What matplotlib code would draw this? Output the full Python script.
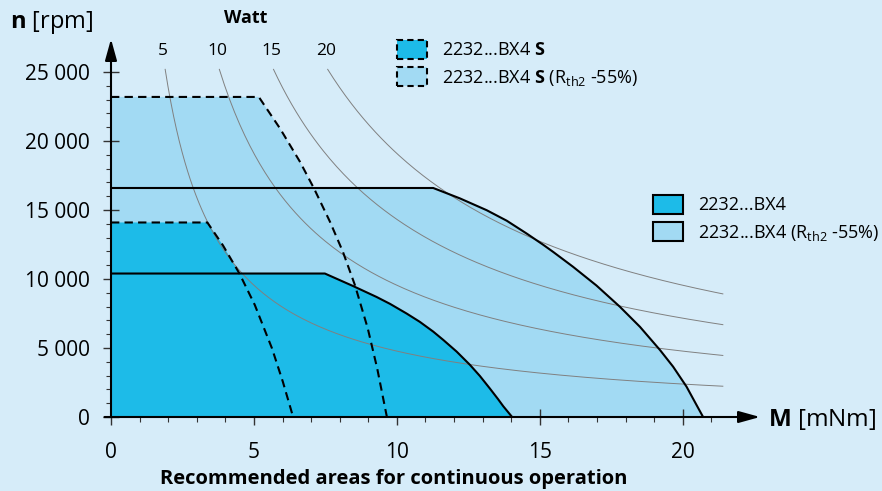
import numpy as np
import matplotlib
matplotlib.use("Agg")
import matplotlib.pyplot as plt
import matplotlib.ticker as mticker
from matplotlib.patches import Patch

# motor 2232...BX4 operating areas, torque M [mNm] vs speed n [rpm]
torque_bx4 = [0, 7.48, 8.47, 9.29, 9.76, 10.34, 10.80, 11.27, 11.62, 12.09, 12.55, 12.90, 13.25, 13.54, 13.72, 14.03]
speed_bx4 = [10400, 10400, 9490, 8700, 8200, 7500, 6900, 6190, 5590, 4740, 3790, 2980, 2070, 1290, 780, 0]

torque_bx4_rth = [0, 11.27, 12.20, 13.14, 13.84, 14.53, 15.12, 15.47, 16.16, 16.98, 17.80, 18.50, 19.20, 19.66, 20.13, 20.48, 20.71]
speed_bx4_rth = [16600, 16600, 15850, 14990, 14230, 13310, 12480, 11960, 10890, 9530, 7990, 6540, 4860, 3650, 2200, 870, 0]

torque_s = [0, 3.37, 3.91, 4.49, 5.03, 5.63, 6.01, 6.37]
speed_s = [14100, 14100, 12460, 10410, 8120, 4980, 2560, 0]

torque_s_rth = [0, 5.17, 5.91, 6.61, 7.10, 7.66, 8.11, 8.53, 8.98, 9.31, 9.65]
speed_s_rth = [23200, 23200, 20920, 18500, 16570, 14150, 11980, 9570, 6430, 3530, 0]

# iso-power lines
watt_levels = [5, 10, 15, 20]
watt_n_top = 25200
watt_m_end = 21.4

x_ticks = [0, 5, 10, 15, 20]
y_ticks = [0, 5000, 10000, 15000, 20000, 25000]

labels_top = [r"2232...BX4 $\mathbf{S}$", r"2232...BX4 $\mathbf{S}$ (R$_{\mathrm{th2}}$ -55%)"]
labels_right = ["2232...BX4", r"2232...BX4 (R$_{\mathrm{th2}}$ -55%)"]

bg = "#D6ECF9"
dark = "#1DBBE8"
light = "#A2DAF3"

plt.rcParams["font.family"] = ["Open Sans", "DejaVu Sans"]
plt.rcParams["mathtext.fontset"] = "custom"
plt.rcParams["mathtext.rm"] = "Open Sans"
plt.rcParams["mathtext.bf"] = "Open Sans:bold"
plt.rcParams["mathtext.it"] = "Open Sans:italic"

fig = plt.figure(figsize=(8.82, 4.91), dpi=100)
fig.patch.set_facecolor(bg)
ax = fig.add_axes([111/882, 74/491, 649/882, 378/491])
ax.set_facecolor(bg)
ax.set_xlim(0, 22.7)
ax.set_ylim(0, 27400)

# fills: light first, dark on top
ax.fill([0] + torque_s_rth, [0] + speed_s_rth, color=light, lw=0, zorder=1)
ax.fill([0] + torque_bx4_rth, [0] + speed_bx4_rth, color=light, lw=0, zorder=1)
ax.fill([0] + torque_bx4, [0] + speed_bx4, color=dark, lw=0, zorder=2)
ax.fill([0] + torque_s, [0] + speed_s, color=dark, lw=0, zorder=2)

# watt curves
k = 30000 / np.pi
for p in watt_levels:
    m = np.linspace(p * k / watt_n_top, watt_m_end, 200)
    ax.plot(m, p * k / m, color="#808080", lw=0.7, zorder=3)
    ax.text(p * k / watt_n_top - 0.07, 26500, str(p), ha="center", va="center",
            fontsize=12.5, zorder=5)
ax.text(4.72, 28900, "Watt", ha="center", va="center", fontsize=13,
        fontweight="bold", clip_on=False)

# outlines
ax.plot(torque_bx4, speed_bx4, color="k", lw=1.5, zorder=4)
ax.plot(torque_bx4_rth, speed_bx4_rth, color="k", lw=1.5, zorder=4)
ax.plot(torque_s, speed_s, color="k", lw=1.5, ls=(0, (4, 2.5)), zorder=4)
ax.plot(torque_s_rth, speed_s_rth, color="k", lw=1.5, ls=(0, (4, 2.5)), zorder=4)

# axes with arrows
for s in ax.spines.values():
    s.set_visible(False)
arrow = dict(arrowstyle="-|>,head_length=1.3,head_width=0.36", lw=1.5, color="k",
             shrinkA=0, shrinkB=0, mutation_scale=10)
ax.annotate("", xy=(1, 0), xycoords="axes fraction", xytext=(-0.01, 0), arrowprops=arrow, zorder=6)
ax.annotate("", xy=(0, 1), xycoords="axes fraction", xytext=(0, 0), arrowprops=arrow, zorder=6)

ax.set_xticks(x_ticks)
ax.set_yticks(y_ticks)
ax.xaxis.set_minor_locator(mticker.FixedLocator(np.arange(1, 22)))
ax.yaxis.set_minor_locator(mticker.FixedLocator(np.arange(1000, 26000, 1000)))
ax.yaxis.set_major_formatter(mticker.FuncFormatter(lambda v, pos: f"{int(v):,}".replace(",", " ")))
ax.tick_params(which="major", direction="inout", length=12, width=1, labelsize=15, color="#333333")
ax.tick_params(axis="x", which="major", pad=12)
ax.tick_params(axis="y", which="major", pad=9)
ax.tick_params(which="minor", direction="out", length=3.5, width=0.8, color="#333333")

fig.text(10/882, 1 - 22/491, r"$\mathbf{n}$ [rpm]", fontsize=17, va="center", ha="left")
fig.text(768/882, 1 - 419/491, r"$\mathbf{M}$ [mNm]", fontsize=17.5, va="center", ha="left")
fig.text(394/882, 1 - 479/491, "Recommended areas for continuous operation",
         fontsize=14.5, fontweight="bold", ha="center", va="center")

h_top = [Patch(facecolor=dark, edgecolor="k", linestyle=(0, (3, 2)), lw=1.5),
         Patch(facecolor=light, edgecolor="k", linestyle=(0, (3, 2)), lw=1.5)]
h_right = [Patch(facecolor=dark, edgecolor="k", lw=1.5),
           Patch(facecolor=light, edgecolor="k", lw=1.5)]
leg_kw = dict(loc="upper left", frameon=False, fontsize=13, handlelength=1.65, handleheight=1.2,
              handletextpad=0.85, labelspacing=0.45, borderaxespad=0, borderpad=0)
fig.legend(h_top, labels_top, bbox_to_anchor=(397/882, 1 - 40/491), **leg_kw)
fig.legend(h_right, labels_right, bbox_to_anchor=(653/882, 1 - 195/491), **leg_kw)

fig.savefig("out.png", dpi=100, facecolor=bg)
